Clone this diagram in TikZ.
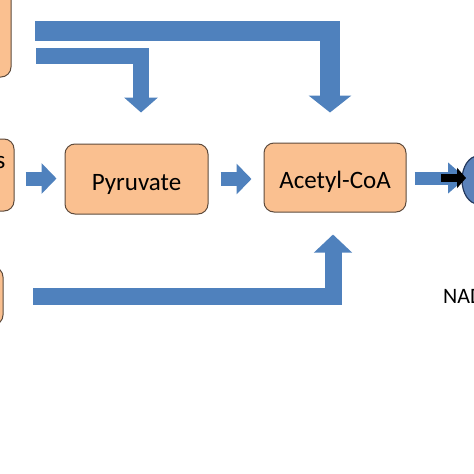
\documentclass[tikz,border=0pt]{standalone}
\usepackage{fontspec}
\setmainfont{Carlito}
\usetikzlibrary{arrows.meta}
\definecolor{boxfill}{HTML}{FAC090}
\definecolor{boxline}{HTML}{5E4B3C}
\definecolor{flow}{HTML}{4F81BD}
\definecolor{cycfill}{HTML}{5B82BA}
\definecolor{cycline}{HTML}{24395E}
\begin{document}
\begin{tikzpicture}[x=1pt,y=-1pt,
  box/.style={draw=boxline, line width=1pt, fill=boxfill, rounded corners=10pt,
    inner sep=0pt, font=\fontsize{25}{30}\selectfont, text height=21pt, text depth=0pt},
  bigarrow/.style={draw=flow, line join=miter, line cap=butt},
  sidearrow/.style={bigarrow, line width=14pt, -{Triangle[length=15pt,width=30pt]}},
  lbl/.style={inner sep=0pt, font=\fontsize{22}{26}\selectfont}]
\useasboundingbox (0,0) rectangle (474,474);
\begin{scope}
\clip (0,0) rectangle (474,474);
% left boxes (mostly outside the picture)
\node[box, minimum width=111pt, minimum height=127pt] (tl) at (-44.5,13.5) {};
\node[box, minimum width=114pt, minimum height=72pt] (ml) at (-43,175) {};
\node[anchor=base east, inner sep=0pt, font=\fontsize{25}{30}\selectfont] (mltext) at (5.5,168) {s};
\node[box, minimum width=103pt, minimum height=58pt] (bl) at (-48.5,296) {};
% main boxes
\node[box, minimum width=143pt, minimum height=70pt, text height=22pt] (pyr) at (136.5,179) {Pyruvate};
\node[box, minimum width=142pt, minimum height=69pt] (acoa) at (335,177.5) {Acetyl-CoA};
% cycle (cut off at the right border)
\draw[fill=cycfill, draw=cycline, line width=1.2pt] (478,180) ellipse [x radius=16, y radius=24];
% bent block arrows
\draw[bigarrow, line width=20pt, -{Triangle[length=17pt,width=42pt]}]
  (35,31) -| ([xshift=-5pt,yshift=30pt]acoa.north);
\draw[bigarrow, line width=16pt, -{Triangle[length=15pt,width=33pt]}]
  (36,56) -| ([xshift=4.5pt,yshift=31pt]pyr.north);
\draw[bigarrow, line width=17pt, -{Triangle[length=18pt,width=37pt]}]
  (33,296.5) -| ([xshift=-2pt,yshift=-22pt]acoa.south);
% straight block arrows
\coordinate (r1) at (0,178.5);
\coordinate (r2) at (0,179);
\coordinate (cyc) at (466,178);
\draw[sidearrow] ([xshift=-39pt]pyr.west |- r1) -- ([xshift=-8pt]pyr.west |- r1);
\draw[sidearrow] ([xshift=12pt]pyr.east |- r2) -- ([xshift=-12pt]acoa.west |- r2);
\draw[bigarrow, line width=13pt, -{Triangle[length=18pt,width=30pt]}]
  ([xshift=8pt]acoa.east |- cyc) -- (cyc);
\draw[black, line width=8pt, -{Triangle[length=9pt,width=20pt]}] (441,178) -- (cyc);
% cut-off label
\node[lbl, anchor=base west] (nad) at (443,303) {NAD};
\end{scope}
\end{tikzpicture}
\end{document}
